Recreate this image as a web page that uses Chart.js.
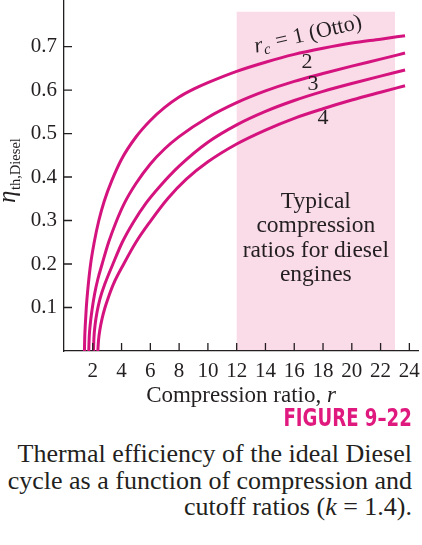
<!DOCTYPE html>
<html lang="en">
<head>
    <meta charset="UTF-8">
    <title>Thermal efficiency of the ideal Diesel cycle</title>
    <script src="https://cdn.jsdelivr.net/npm/chart.js"></script>
    <style>
        body {
            margin: 0;
            background: #ffffff;
            width: 422px;
            height: 545px;
            position: relative;
            overflow: hidden;
        }

        #grafico {
            position: absolute;
            left: 0;
            top: 0;
        }

        .figura {
            position: absolute;
            right: 10px;
            top: 405px;
            font-family: "Liberation Sans Narrow", "DejaVu Sans Condensed", sans-serif;
            font-weight: bold;
            font-size: 24px;
            line-height: 26px;
            color: #e0197f;
            transform: scaleX(0.84);
            transform-origin: right center;
        }

        .legenda {
            position: absolute;
            right: 10px;
            top: 441px;
            text-align: right;
            font-family: "Liberation Serif", "Times New Roman", serif;
            font-size: 26px;
            line-height: 26.5px;
            color: #231f20;
            white-space: nowrap;
        }
    </style>
</head>
<body>
    <canvas id="grafico" width="422" height="410"></canvas>
    <div class="figura">FIGURE 9–22</div>
    <div class="legenda">Thermal efficiency of the ideal Diesel<br>cycle as a function of compression and<br>cutoff ratios (<i>k</i> = 1.4).</div>

    <script>
        // valores (r, eta) para cada razão de corte rc
        const rOtto = [1.42, 1.44, 1.48, 1.55, 1.65, 1.85, 2.1, 2.42, 2.8, 3.3, 4.0, 5.0, 6.0, 7, 8, 9, 10, 12, 14, 16, 18, 20, 22, 23.7];
        const etaOtto = [0, 0.03, 0.06, 0.1, 0.14, 0.2, 0.25, 0.3, 0.345, 0.39, 0.441, 0.492, 0.530, 0.560, 0.584, 0.602, 0.617, 0.643, 0.664, 0.682, 0.696, 0.708, 0.717, 0.725];

        const rCorte2 = [1.72, 1.75, 1.82, 1.95, 2.12, 2.35, 2.65, 3.1, 3.6, 4.2, 5.0, 6.0, 7, 8, 10, 12, 14, 16, 18, 20, 22, 23.7];
        const etaCorte2 = [0, 0.03, 0.06, 0.095, 0.13, 0.165, 0.2, 0.25, 0.295, 0.34, 0.385, 0.43, 0.465, 0.493, 0.537, 0.571, 0.598, 0.62, 0.638, 0.655, 0.671, 0.685];

        const rCorte3 = [2.05, 2.08, 2.16, 2.3, 2.5, 2.85, 3.4, 4.05, 4.8, 5.7, 6.7, 8, 10, 12, 14, 16, 18, 20, 22, 23.7];
        const etaCorte3 = [0, 0.03, 0.06, 0.09, 0.12, 0.155, 0.2, 0.25, 0.295, 0.34, 0.38, 0.425, 0.48, 0.52, 0.551, 0.576, 0.597, 0.615, 0.632, 0.646];

        const rCorte4 = [2.35, 2.4, 2.5, 2.65, 2.85, 3.1, 3.45, 4.15, 5.0, 6.0, 7.2, 8.5, 10, 12, 14, 16, 18, 20, 22, 23.7];
        const etaCorte4 = [0, 0.025, 0.05, 0.075, 0.1, 0.125, 0.155, 0.2, 0.25, 0.298, 0.35, 0.395, 0.435, 0.476, 0.508, 0.535, 0.557, 0.577, 0.595, 0.61];

        const faixaDiesel = [12, 23];       // razões de compressão típicas
        const topoFaixa = 0.78;
        const xTicks = [2, 4, 6, 8, 10, 12, 14, 16, 18, 20, 22, 24];
        const yTicks = [0.1, 0.2, 0.3, 0.4, 0.5, 0.6, 0.7];
        const yTickLabels = ['0.1', '0.2', '0.3', '0.4', '0.5', '0.6', '0.7'];
        const textoFaixa = ['Typical', 'compression', 'ratios for diesel', 'engines'];

        const corCurva = '#d5137f';
        const corFaixa = '#fadbe8';
        const corTexto = '#231f20';
        const serif = '"Liberation Serif", "Times New Roman", serif';

        function pontos(xs, ys) {
            return xs.map((x, i) => ({ x: x, y: ys[i] }));
        }

        function curva(xs, ys) {
            return {
                data: pontos(xs, ys),
                borderColor: corCurva,
                borderWidth: 3,
                pointRadius: 0,
                fill: false,
                cubicInterpolationMode: 'monotone'
            };
        }

        // desenha uma sequência de trechos de texto com fontes diferentes
        function textoMisto(ctx, trechos, x, y) {
            let cx = x;
            trechos.forEach(t => {
                ctx.font = t.font;
                ctx.fillText(t.text, cx, y + (t.dy || 0));
                cx += ctx.measureText(t.text).width + (t.gap || 0);
            });
        }

        function larguraMista(ctx, trechos) {
            let w = 0;
            trechos.forEach(t => {
                ctx.font = t.font;
                w += ctx.measureText(t.text).width + (t.gap || 0);
            });
            return w;
        }

        const decoracao = {
            id: 'decoracao',
            beforeDraw(chart) {
                const { ctx, scales: { x, y } } = chart;
                const x1 = x.getPixelForValue(faixaDiesel[0]);
                const x2 = x.getPixelForValue(faixaDiesel[1]);
                const y1 = y.getPixelForValue(topoFaixa);
                const y2 = y.getPixelForValue(0);
                ctx.save();
                ctx.fillStyle = corFaixa;
                ctx.fillRect(x1, y1, x2 - x1, y2 - y1);
                ctx.restore();
            },
            afterDraw(chart) {
                const { ctx, chartArea, scales: { x, y } } = chart;
                ctx.save();
                ctx.fillStyle = corTexto;
                ctx.strokeStyle = corTexto;
                ctx.lineWidth = 1.3;

                // marcas para dentro
                ctx.beginPath();
                xTicks.forEach(v => {
                    const px = x.getPixelForValue(v);
                    ctx.moveTo(px, chartArea.bottom);
                    ctx.lineTo(px, chartArea.bottom - 8);
                });
                yTicks.forEach(v => {
                    const py = y.getPixelForValue(v);
                    ctx.moveTo(chartArea.left, py);
                    ctx.lineTo(chartArea.left + 8, py);
                });
                ctx.stroke();

                // título do eixo x
                ctx.textBaseline = 'alphabetic';
                ctx.textAlign = 'left';
                const tituloX = [
                    { text: 'Compression ratio, ', font: '23px ' + serif },
                    { text: 'r', font: 'italic 23px ' + serif }
                ];
                const wx = larguraMista(ctx, tituloX);
                textoMisto(ctx, tituloX, (chartArea.left + chartArea.right) / 2 - wx / 2, 402);

                // título do eixo y
                ctx.save();
                ctx.translate(15, 203);
                ctx.rotate(-Math.PI / 2);
                textoMisto(ctx, [
                    { text: 'η', font: 'italic 25px ' + serif, gap: 0.5 },
                    { text: 'th,Diesel', font: '14.5px ' + serif, dy: 5 }
                ], 0, 0);
                ctx.restore();

                // rótulo da curva Otto
                ctx.save();
                ctx.translate(x.getPixelForValue(13.33), y.getPixelForValue(0.686));
                ctx.rotate(-13 * Math.PI / 180);
                textoMisto(ctx, [
                    { text: 'r', font: 'italic 22px ' + serif },
                    { text: 'c', font: 'italic 15px ' + serif, dy: 4, gap: 1 },
                    { text: ' = 1 (Otto)', font: '22px ' + serif }
                ], 0, 0);
                ctx.restore();

                // rótulos rc = 2, 3, 4
                ctx.font = '22px ' + serif;
                ctx.textAlign = 'center';
                ctx.textBaseline = 'middle';
                ctx.fillText('2', x.getPixelForValue(16.88), y.getPixelForValue(0.664));
                ctx.fillText('3', x.getPixelForValue(17.3), y.getPixelForValue(0.614));
                ctx.fillText('4', x.getPixelForValue(17.99), y.getPixelForValue(0.536));

                // texto da faixa típica
                ctx.font = '23.5px ' + serif;
                const cx = x.getPixelForValue((faixaDiesel[0] + faixaDiesel[1]) / 2);
                const cy = y.getPixelForValue(0.343);
                textoFaixa.forEach((linha, i) => {
                    ctx.fillText(linha, cx, cy + i * 24.3);
                });
                ctx.restore();
            }
        };

        const ctxGrafico = document.getElementById('grafico').getContext('2d');
        const grafico = new Chart(ctxGrafico, {
            type: 'line',
            data: {
                datasets: [
                    curva(rOtto, etaOtto),
                    curva(rCorte2, etaCorte2),
                    curva(rCorte3, etaCorte3),
                    curva(rCorte4, etaCorte4)
                ]
            },
            options: {
                responsive: false,
                animation: false,
                layout: {
                    padding: { left: 0, right: 4, top: 0, bottom: 0 }
                },
                plugins: {
                    legend: { display: false },
                    tooltip: { enabled: false }
                },
                scales: {
                    x: {
                        type: 'linear',
                        min: 0,
                        max: 24.6,
                        afterBuildTicks: (s) => { s.ticks = xTicks.map(v => ({ value: v })); },
                        afterFit: (s) => {
                            s.height = 59;
                            s.paddingLeft = 0;
                            s.paddingRight = 0;
                        },
                        grid: { display: false, drawTicks: false },
                        border: { display: true, color: corTexto, width: 1.3 },
                        ticks: {
                            padding: 8,
                            maxRotation: 0,
                            autoSkip: false,
                            color: corTexto,
                            font: { family: serif, size: 21 }
                        }
                    },
                    y: {
                        type: 'linear',
                        min: 0,
                        max: 0.807,
                        afterBuildTicks: (s) => { s.ticks = yTicks.map(v => ({ value: v })); },
                        afterFit: (s) => {
                            s.width = 64;
                            s.paddingTop = 0;
                            s.paddingBottom = 0;
                        },
                        grid: { display: false, drawTicks: false },
                        border: { display: true, color: corTexto, width: 1.3 },
                        ticks: {
                            padding: 7,
                            color: corTexto,
                            font: { family: serif, size: 21 },
                            callback: (v) => yTickLabels[yTicks.indexOf(v)]
                        }
                    }
                }
            },
            plugins: [decoracao]
        });
    </script>
</body>
</html>
